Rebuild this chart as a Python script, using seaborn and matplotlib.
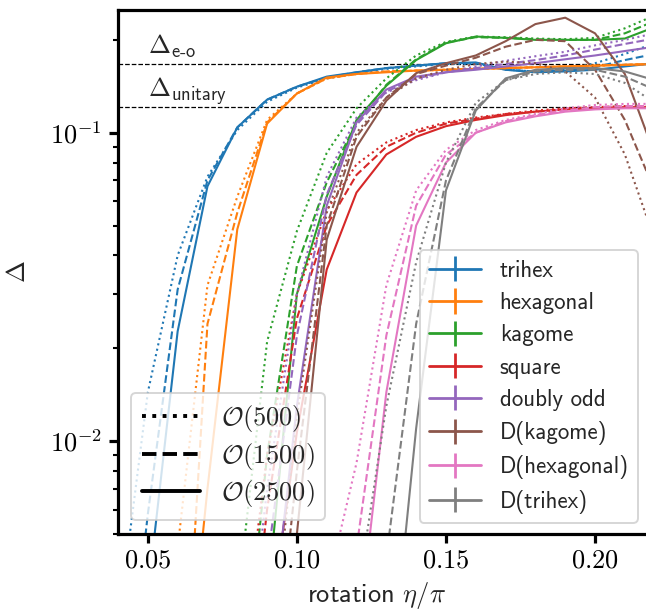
import numpy as np
import pandas as pd
import matplotlib
matplotlib.use("Agg")
import matplotlib.pyplot as plt
import seaborn as sns
from matplotlib.lines import Line2D
from matplotlib.collections import LineCollection
from matplotlib.container import ErrorbarContainer
from matplotlib.legend_handler import HandlerErrorbar
from matplotlib.ticker import FixedLocator, FuncFormatter, LogLocator, NullFormatter

nan = np.nan

# rotation angle eta/pi
eta = [0.04, 0.05, 0.06, 0.07, 0.08, 0.09, 0.10, 0.11, 0.12, 0.13,
       0.14, 0.15, 0.16, 0.17, 0.18, 0.19, 0.20, 0.21, 0.22]

lattices = ["trihex", "hexagonal", "kagome", "square", "doubly odd",
            "D(kagome)", "D(hexagonal)", "D(trihex)"]
orders = [r"$\mathcal{O}(500)$", r"$\mathcal{O}(1500)$", r"$\mathcal{O}(2500)$"]
colors = ["#1f77b4", "#ff7f0e", "#2ca02c", "#d62728",
          "#9467bd", "#8c564b", "#e377c2", "#7f7f7f"]

# gap Delta at each truncation order
trihex_500 = [.0025, .0144, .040, .072, .102, .126, .140, .150, .156, .161, .164, .167, .167, .160, .158, .160, .168, .180, .195]
trihex_1500 = [.0008, .0058, .031, .070, .104, .128, .141, .151, .157, .162, .165, .168, .168, .160, .158, .159, .163, .172, .180]
trihex_2500 = [nan, .0032, .0227, .067, .104, .128, .141, .152, .157, .162, .165, .168, .169, .160, .157, .158, .160, .164, .168]

hexagonal_500 = [nan, .0006, .0045, .032, .062, .110, .134, .150, .155, .158, .159, .160, .161, .162, .163, .164, .165, .166, .167]
hexagonal_1500 = [nan, nan, .0006, .024, .055, .108, .134, .150, .155, .158, .159, .160, .161, .162, .163, .164, .165, .166, .167]
hexagonal_2500 = [nan, nan, .0008, .007, .0486, .107, .134, .151, .155, .157, .159, .160, .161, .162, .163, .164, .165, .166, .167]

kagome_500 = [nan, nan, nan, .0006, .003, .021, .048, .086, .120, .150, .178, .197, .205, .204, .202, .201, .203, .218, .240]
kagome_1500 = [nan, nan, nan, nan, .001, .009, .037, .069, .108, .143, .173, .196, .204, .203, .201, .200, .200, .210, .230]
kagome_2500 = [nan, nan, nan, nan, nan, .003, .030, .062, .110, .142, .172, .195, .205, .203, .200, .200, .200, .202, .220]

square_500 = [nan, nan, nan, nan, .0015, .009, .030, .056, .079, .093, .102, .108, .112, .115, .118, .120, .121, .122, .122]
square_1500 = [nan, nan, nan, nan, .0008, .006, .025, .050, .073, .090, .100, .107, .111, .115, .117, .119, .120, .121, .121]
square_2500 = [nan, nan, nan, nan, nan, .0022, .0107, .036, .064, .085, .097, .105, .110, .114, .117, .119, .120, .121, .121]

doubly_odd_500 = [nan, nan, nan, nan, .001, .007, .030, .072, .112, .135, .148, .157, .164, .171, .177, .183, .192, .200, .210]
doubly_odd_1500 = [nan, nan, nan, nan, nan, .004, .022, .063, .106, .136, .150, .157, .162, .167, .172, .178, .186, .194, .202]
doubly_odd_2500 = [nan, nan, nan, nan, nan, .0018, .013, .058, .108, .138, .152, .157, .160, .164, .168, .173, .178, .184, .190]

d_kagome_500 = [nan, nan, nan, nan, nan, .0015, .012, .055, .100, .130, .150, .160, .167, .170, .168, .158, .130, .085, .045]
d_kagome_1500 = [nan, nan, nan, nan, nan, .001, .008, .050, .097, .130, .155, .165, .175, .190, .200, .198, .160, .110, .065]
d_kagome_2500 = [nan, nan, nan, nan, nan, .0003, .005, .045, .090, .127, .156, .168, .178, .198, .225, .236, .210, .155, .085]

d_hexagonal_500 = [nan, nan, nan, nan, nan, nan, .0005, .0033, .0085, .032, .065, .088, .102, .110, .115, .120, .123, .124, .124]
d_hexagonal_1500 = [nan, nan, nan, nan, nan, nan, nan, .0008, .0045, .022, .058, .085, .100, .109, .114, .118, .121, .122, .122]
d_hexagonal_2500 = [nan, nan, nan, nan, nan, nan, nan, nan, .0021, .0144, .050, .080, .100, .108, .113, .117, .119, .120, .120]

d_trihex_500 = [nan, nan, nan, nan, nan, nan, nan, nan, .003, .013, .038, .080, .125, .148, .155, .157, .155, .145, .125]
d_trihex_1500 = [nan, nan, nan, nan, nan, nan, nan, nan, .0005, .0042, .024, .070, .120, .148, .158, .160, .160, .152, .138]
d_trihex_2500 = [nan, nan, nan, nan, nan, nan, nan, nan, nan, .0012, .011, .065, .118, .150, .160, .162, .162, .158, .148]

# reference gaps
gap_eo = 0.167
gap_unitary = 0.1213

series = {
    "trihex": (trihex_500, trihex_1500, trihex_2500),
    "hexagonal": (hexagonal_500, hexagonal_1500, hexagonal_2500),
    "kagome": (kagome_500, kagome_1500, kagome_2500),
    "square": (square_500, square_1500, square_2500),
    "doubly odd": (doubly_odd_500, doubly_odd_1500, doubly_odd_2500),
    "D(kagome)": (d_kagome_500, d_kagome_1500, d_kagome_2500),
    "D(hexagonal)": (d_hexagonal_500, d_hexagonal_1500, d_hexagonal_2500),
    "D(trihex)": (d_trihex_500, d_trihex_1500, d_trihex_2500),
}

rows = []
for name in lattices:
    for order, vals in zip(orders, series[name]):
        for x, y in zip(eta, vals):
            if not np.isnan(y):
                rows.append({"eta": x, "gap": y, "lattice": name, "order": order})
df = pd.DataFrame(rows)

sns.set_theme(style="ticks")
plt.rcParams.update({
    "font.family": ["cmss10", "DejaVu Sans"],
    "mathtext.fontset": "cm",
    "axes.unicode_minus": False,
    "axes.edgecolor": "black",
    "axes.linewidth": 2.3,
    "xtick.color": "black",
    "ytick.color": "black",
    "xtick.major.size": 6.5,
    "ytick.major.size": 6.5,
    "xtick.major.width": 2.3,
    "ytick.major.width": 2.3,
    "ytick.minor.size": 3.8,
    "ytick.minor.width": 1.5,
    "font.size": 19,
    "legend.edgecolor": "0.8",
    "legend.framealpha": 0.8,
    "patch.linewidth": 1.4,
})

fig = plt.figure(figsize=(6.46, 6.12), dpi=100)
ax = fig.add_axes([0.1827, 0.1275, 0.8307, 0.8562])
ax.set_yscale("log")

dash_map = {orders[0]: (1, 1.65), orders[1]: (3.7, 1.6), orders[2]: ""}
sns.lineplot(data=df, x="eta", y="gap", hue="lattice", style="order",
             hue_order=lattices, style_order=orders, palette=colors,
             dashes=dash_map, estimator=None, errorbar=None, sort=True,
             linewidth=1.5, legend=False, ax=ax)

ax.axhline(gap_eo, color="black", ls="--", lw=0.9, zorder=1)
ax.axhline(gap_unitary, color="black", ls="--", lw=0.9, zorder=1)
ax.text(0.05, gap_eo * 1.085, r"$\Delta_{\mathsf{e}\text{-}\mathsf{o}}$",
        fontsize=19, va="baseline", ha="left")
ax.text(0.05, gap_unitary * 1.081, r"$\Delta_{\mathsf{unitary}}$",
        fontsize=19, va="baseline", ha="left")

ax.set_xlim(0.04, 0.22)
ax.set_ylim(0.005, 0.25)

xt = [0.05, 0.10, 0.15, 0.20]
ax.xaxis.set_major_locator(FixedLocator(xt))
ax.xaxis.set_major_formatter(FuncFormatter(lambda v, p: r"$%.2f$" % v))
ax.xaxis.set_minor_locator(FixedLocator([]))
ax.yaxis.set_major_locator(LogLocator(base=10))
ax.yaxis.set_major_formatter(FuncFormatter(lambda v, p: r"$10^{%d}$" % round(np.log10(v))))
ax.yaxis.set_minor_locator(LogLocator(base=10, subs=np.arange(2, 10)))
ax.yaxis.set_minor_formatter(NullFormatter())
ax.tick_params(axis="both", which="major", labelsize=19, pad=5)
ax.tick_params(top=False, right=False)

ax.set_xlabel(r"rotation $\eta/\pi$", fontsize=19)
ax.xaxis.set_label_coords(0.481, -0.088)
ax.set_ylabel(r"$\Delta$", fontsize=19)
ax.yaxis.set_label_coords(-0.164, 0.5)

# lattice legend with errorbar-style handles
handles = []
for name, c in zip(lattices, colors):
    ln = Line2D([], [], color=c, lw=2.0)
    bar = LineCollection([], colors=[c], linewidths=2.0)
    handles.append(ErrorbarContainer((ln, (), (bar,)), has_xerr=False,
                                     has_yerr=True, label=name))
leg1 = ax.legend(handles=handles, labels=lattices, loc="lower right",
                 bbox_to_anchor=(0.969, 0.021), borderaxespad=0,
                 fontsize=16.5, handlelength=2.3, handletextpad=0.8,
                 labelspacing=0.45, fancybox=True,
                 handler_map={ErrorbarContainer: HandlerErrorbar(xerr_size=0.5, yerr_size=0.55)})
ax.add_artist(leg1)

order_handles = [Line2D([], [], color="black", lw=2.8, dashes=(1, 1.65)),
                 Line2D([], [], color="black", lw=2.8, dashes=(3.7, 1.6)),
                 Line2D([], [], color="black", lw=2.8)]
ax.legend(handles=order_handles, labels=orders, loc="lower left",
          bbox_to_anchor=(0.0242, 0.0267), borderaxespad=0,
          fontsize=19, handlelength=2.2, handletextpad=0.8,
          labelspacing=0.25, fancybox=True)

fig.savefig("out.png", dpi=100)
